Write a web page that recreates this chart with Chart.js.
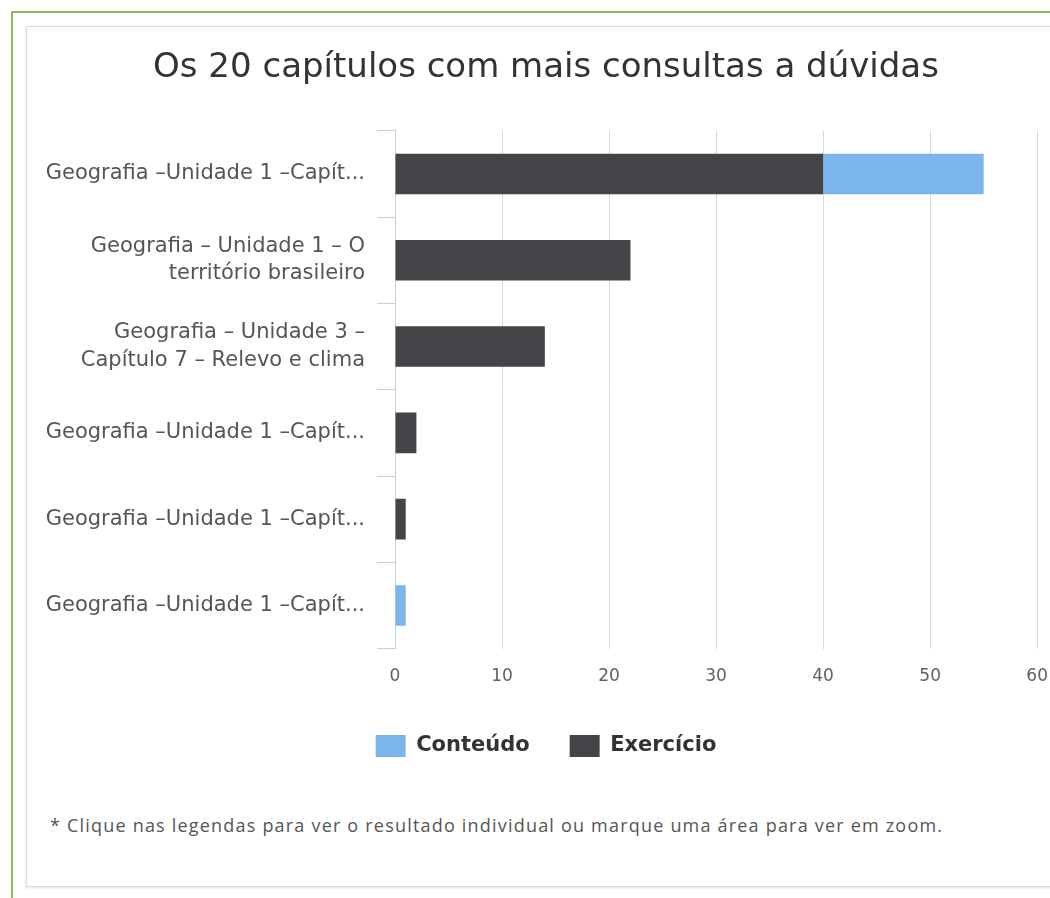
<!DOCTYPE html>
<html>
<head>
<meta charset="utf-8">
<script src="https://cdn.jsdelivr.net/npm/chart.js@4.4.1/dist/chart.umd.min.js"></script>
<style>
    body { margin: 0; width: 1050px; height: 898px; overflow: hidden; position: relative; background: #fff; }
    #frame { position: absolute; left: 11px; top: 11px; width: 1100px; height: 1000px; border: 2px solid #8fbc45; }
    #panel { position: absolute; left: 26px; top: 26px; width: 1100px; height: 859px; border: 1px solid #dadada; box-shadow: 0 1px 3px rgba(0,0,0,0.12); background: #fff; }
    #chartBox { position: absolute; left: 9px; top: 27px; width: 1057px; height: 744px; }
    #note { position: absolute; left: 50px; top: 813px; font: 18px "Open Sans"; letter-spacing: 1.2px; color: #555; white-space: nowrap; }
</style>
</head>
<body>
<div id="frame"></div>
<div id="panel"></div>
<div id="chartBox"><canvas id="chartCanvas"></canvas></div>
<div id="note">* Clique nas legendas para ver o resultado individual ou marque uma área para ver em zoom.</div>
<script>
const chartTitle = 'Os 20 capítulos com mais consultas a dúvidas';
const categories = [
    'Geografia –Unidade 1 –Capít...',
    ['Geografia – Unidade 1 – O', 'território brasileiro'],
    ['Geografia – Unidade 3 –', 'Capítulo 7 – Relevo e clima'],
    'Geografia –Unidade 1 –Capít...',
    'Geografia –Unidade 1 –Capít...',
    'Geografia –Unidade 1 –Capít...'
];
const conteudo = [15, 0, 0, 0, 0, 1];
const exercicio = [40, 22, 14, 2, 1, 0];
const xTicks = [0, 10, 20, 30, 40, 50, 60];

const fontFamily = '"DejaVu Sans", Verdana, sans-serif';

document.addEventListener('DOMContentLoaded', () => {
    const ctx = document.getElementById('chartCanvas').getContext('2d');

    // stack order: Exercício at the base, Conteúdo on the end
    new Chart(ctx, {
        type: 'bar',
        data: {
            labels: categories,
            datasets: [{
                label: 'Exercício',
                data: exercicio,
                backgroundColor: '#434348',
                barPercentage: 0.94,
                categoryPercentage: 0.5
            }, {
                label: 'Conteúdo',
                data: conteudo,
                backgroundColor: '#7cb5ec',
                barPercentage: 0.94,
                categoryPercentage: 0.5
            }]
        },
        options: {
            indexAxis: 'y',
            responsive: true,
            maintainAspectRatio: false,
            animation: false,
            layout: { padding: { left: 17, right: 0, top: 0, bottom: 4 } },
            scales: {
                x: {
                    stacked: true,
                    min: 0,
                    max: 60,
                    afterBuildTicks: (axis) => { axis.ticks = xTicks.map(v => ({ value: v })); },
                    afterFit: (axis) => { axis.height -= 10; },
                    grid: { color: '#d8d8d8', drawTicks: false },
                    border: { display: false },
                    ticks: { padding: 18, color: '#606060', font: { family: fontFamily, size: 17 } }
                },
                y: {
                    stacked: true,
                    afterFit: (axis) => { axis.width = 369; },
                    grid: { drawOnChartArea: false, color: '#c0d0e0', tickLength: 18 },
                    border: { color: '#c0d0e0', width: 1 },
                    ticks: { padding: 12, color: '#555', font: { family: fontFamily, size: 21, lineHeight: 1.3 } }
                }
            },
            plugins: {
                title: {
                    display: true,
                    text: chartTitle,
                    color: '#333',
                    font: { family: fontFamily, size: 34, weight: 'normal' },
                    padding: { top: 21, bottom: 42 }
                },
                legend: {
                    position: 'bottom',
                    reverse: true,
                    labels: {
                        boxWidth: 30,
                        boxHeight: 22,
                        padding: 40,
                        color: '#333',
                        font: { family: fontFamily, size: 21, weight: 'bold' }
                    }
                },
                tooltip: { enabled: false }
            }
        }
    });
});
</script>
</body>
</html>
